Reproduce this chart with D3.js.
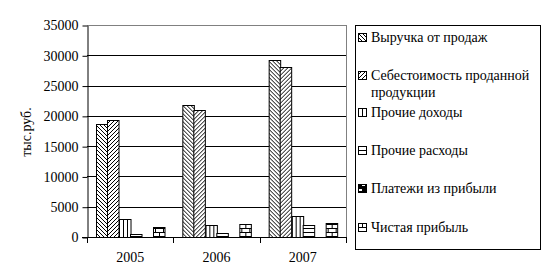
<!DOCTYPE html>
<html>
<head>
<meta charset="utf-8">
<script src="https://cdn.jsdelivr.net/npm/d3@7"></script>
<style>
  body { margin: 0; background: #fff; }
  text { font-family: "Liberation Serif", "Times New Roman", serif; fill: #000; }
</style>
</head>
<body>
<svg id="grafico" width="545" height="277"></svg>
<script>
const years = ["2005", "2006", "2007"];
const seriesNames = [
  "Выручка от продаж",
  "Себестоимость проданной продукции",
  "Прочие доходы",
  "Прочие расходы",
  "Платежи из прибыли",
  "Чистая прибыль"
];
const vyruchka = [18600, 21750, 29150];
const sebestoimost = [19300, 20900, 28000];
const prochieDohody = [3000, 2000, 3450];
const prochieRashody = [550, 700, 1900];
const platezhi = [0, 0, 60];
const chistayaPribyl = [1650, 2150, 2300];
const yTicks = [0, 5000, 10000, 15000, 20000, 25000, 30000, 35000];

const seriesValues = [vyruchka, sebestoimost, prochieDohody, prochieRashody, platezhi, chistayaPribyl];
const patternIds = ["p-down", "p-up", "p-vert", "p-horiz", "p-check", "p-brick"];

const svg = d3.select("#grafico");
const pLeft = 87, pRight = 346, pTop = 25, pBottom = 237;
const serif = "'Liberation Serif', 'Times New Roman', serif";
const fs = 14;

// patterns
const defs = svg.append("defs");
function pat(id, w, h) {
  return defs.append("pattern").attr("id", id)
    .attr("patternUnits", "userSpaceOnUse").attr("width", w).attr("height", h);
}
let p = pat("p-down", 4, 4);
p.append("rect").attr("width", 4).attr("height", 4).attr("fill", "#fff");
p.append("path").attr("d", "M0,0L4,4M-1,3L1,5M3,-1L5,1").attr("stroke", "#000").attr("stroke-width", 1);
p = pat("p-up", 4, 4);
p.append("rect").attr("width", 4).attr("height", 4).attr("fill", "#fff");
p.append("path").attr("d", "M0,4L4,0M-1,1L1,-1M3,5L5,3").attr("stroke", "#000").attr("stroke-width", 1);
p = pat("p-vert", 4, 4);
p.append("rect").attr("width", 4).attr("height", 4).attr("fill", "#fff");
p.append("path").attr("d", "M0.5,0V4").attr("stroke", "#000").attr("stroke-width", 1);
p = pat("p-horiz", 4, 4);
p.append("rect").attr("width", 4).attr("height", 4).attr("fill", "#fff");
p.append("path").attr("d", "M0,0.5H4").attr("stroke", "#000").attr("stroke-width", 1);
p = pat("p-check", 8, 8);
p.append("rect").attr("width", 8).attr("height", 8).attr("fill", "#000");
p.append("rect").attr("x", 1).attr("y", 1).attr("width", 3).attr("height", 2).attr("fill", "#fff");
p.append("rect").attr("x", 4).attr("y", 4).attr("width", 3).attr("height", 2).attr("fill", "#fff");
p = pat("p-brick", 8, 8);
p.append("rect").attr("width", 8).attr("height", 8).attr("fill", "#fff");
p.append("path").attr("d", "M0,0.5H8M0,4.5H8M0.5,0.5V4.5M4.5,4.5V8").attr("stroke", "#000").attr("stroke-width", 1);

const x0 = d3.scaleBand().domain(years).range([pLeft, pRight]).padding(0);
const x1 = d3.scaleBand().domain(d3.range(seriesNames.length))
  .range([0, x0.bandwidth()]).paddingInner(0).paddingOuter(0.75);
const y = d3.scaleLinear().domain([0, 35000]).range([pBottom, pTop]);

// gridlines
svg.append("g").selectAll("line").data(yTicks.filter(d => d > 0)).join("line")
  .attr("x1", pLeft).attr("x2", pRight)
  .attr("y1", d => Math.round(y(d)) + 0.5).attr("y2", d => Math.round(y(d)) + 0.5)
  .attr("stroke", d => d === 35000 ? "#808080" : "#000").attr("stroke-width", 1);
svg.append("line").attr("x1", pRight + 0.5).attr("x2", pRight + 0.5)
  .attr("y1", pTop).attr("y2", pBottom).attr("stroke", "#808080");

// bars
const rows = years.map((yr, i) => ({ yr, vals: seriesValues.map((s, k) => ({ k, v: s[i] })) }));
svg.append("g").selectAll("g").data(rows).join("g")
  .attr("transform", d => `translate(${x0(d.yr)},0)`)
  .selectAll("rect").data(d => d.vals.filter(e => e.v > 0)).join("rect")
  .attr("x", d => Math.round(x1(d.k)) + 0.5)
  .attr("width", x1.bandwidth())
  .attr("y", d => Math.round(y(d.v)) + 0.5)
  .attr("height", d => Math.max(0, Math.round(pBottom - y(d.v))))
  .attr("fill", d => `url(#${patternIds[d.k]})`)
  .attr("stroke", "#000").attr("stroke-width", 1);

// y axis
const yAxis = svg.append("g").attr("transform", `translate(${pLeft + 0.5},0.5)`)
  .call(d3.axisLeft(y).tickValues(yTicks).tickFormat(d3.format("d"))
    .tickSize(5).tickSizeOuter(0).tickPadding(4))
  .attr("font-family", serif).attr("font-size", fs);
yAxis.selectAll("path, line").attr("stroke", "#000");
yAxis.selectAll("text").attr("fill", "#000");

// x axis
svg.append("line").attr("x1", pLeft - 5).attr("x2", pRight + 1)
  .attr("y1", pBottom + 0.5).attr("y2", pBottom + 0.5).attr("stroke", "#000");
const bounds = years.map(d => x0(d)).concat([pRight]);
svg.append("g").selectAll("line").data(bounds).join("line")
  .attr("x1", d => Math.round(d) + 0.5).attr("x2", d => Math.round(d) + 0.5)
  .attr("y1", pBottom).attr("y2", pBottom + 6).attr("stroke", "#000");
svg.append("g").selectAll("text").data(years).join("text")
  .attr("x", d => x0(d) + x0.bandwidth() / 2).attr("y", 262)
  .attr("text-anchor", "middle").style("font-size", fs + "px").text(d => d);

// y label
svg.append("text").attr("transform", "translate(31,132) rotate(-90)")
  .attr("text-anchor", "middle").style("font-size", fs + "px").text("тыс.руб.");

// legend
svg.append("rect").attr("x", 355.5).attr("y", 25.5).attr("width", 185).attr("height", 224)
  .attr("fill", "#fff").attr("stroke", "#000");
const legendY = [37, 75, 112, 150, 188, 227];
const leg = svg.append("g").selectAll("g").data(seriesNames).join("g")
  .attr("transform", (d, i) => `translate(358,${legendY[i]})`);
leg.append("rect").attr("x", 0.5).attr("y", -3.5).attr("width", 8).attr("height", 8)
  .attr("fill", (d, i) => `url(#${patternIds[i]})`).attr("stroke", "#000");
leg.append("text").attr("x", 13).attr("y", 5).style("font-size", fs + "px")
  .each(function (d) {
    const t = d3.select(this);
    if (d.startsWith("Себестоимость")) {
      t.append("tspan").attr("x", 13).text("Себестоимость проданной");
      t.append("tspan").attr("x", 13).attr("dy", 17).text("продукции");
    } else {
      t.text(d);
    }
  });
</script>
</body>
</html>
